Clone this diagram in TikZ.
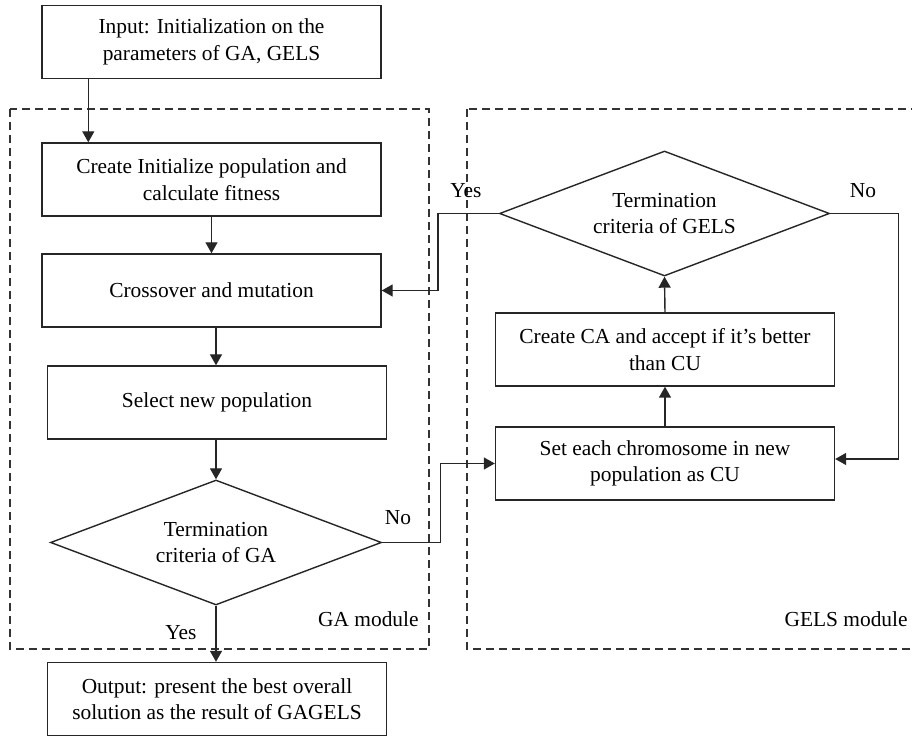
\documentclass[tikz,border=0pt]{standalone}
\usepackage{fontspec}
\setmainfont{Liberation Serif}
\usetikzlibrary{shapes.geometric, arrows.meta, positioning}
\tikzstyle{block} = [rectangle, text centered, align=center, draw=black!85, line width=0.7pt, minimum width=169.5pt, minimum height=36.5pt, inner sep=0pt]
\tikzstyle{decision} = [diamond, aspect=2.64, align=center, draw=black!85, line width=0.7pt, minimum width=165pt, minimum height=62.5pt, inner sep=0pt]
\tikzstyle{module} = [draw=black!80, line width=0.55pt, dash pattern=on 4pt off 2.5pt]
\tikzstyle{arrow} = [line width=0.7pt, draw=black!85, -{Triangle[length=5.5pt,width=6pt]}]
\tikzstyle{lbl} = [inner sep=0pt]

\begin{document}
\begin{tikzpicture}[x=0.5pt, y=-0.5pt, font=\fontsize{10.7}{13.3}\selectfont]
  \useasboundingbox (0,0) rectangle (912,737);

  % module frames
  \draw[module] (10,109) rectangle (429,649);
  \draw[module] (467,109) rectangle (920,649);

  % GA side
  \node[block] (input) at (211.5,42) {Input: Initialization on the\\parameters of GA, GELS};
  \node[block] (create) at (211.5,179.5) {Create Initialize population and\\calculate fitness};
  \node[block] (crossover) at (211.5,290.5) {Crossover and mutation};
  \node[block] (select) at (217,402.5) {Select new population};
  \node[decision, minimum width=165.5pt] (gacrit) at (216,542.5) {Termination\\criteria of GA};
  \node[block] (output) at (217,699) {Output: present the best overall\\solution as the result of GAGELS};

  % GELS side
  \node[decision] (gelscrit) at (664.5,213.5) {Termination\\criteria of GELS};
  \node[block] (createca) at (665,349.5) {Create CA and accept if it's better\\than CU};
  \node[block] (setpop) at (665,463.5) {Set each chromosome in new\\population as CU};

  % labels
  \node[lbl] (gano) at (398,518) {No};
  \node[lbl] (gayes) at (181,633) {Yes};
  \node[lbl] (gelsyes) at (466,191) {Yes};
  \node[lbl] (gelsno) at (863,191) {No};
  \node[lbl, anchor=east] (gamod) at (419,619) {GA module};
  \node[lbl, anchor=east] (gelsmod) at (908,619) {GELS module};

  \draw[arrow] ([xshift=23.5pt]input.south west) -- ([xshift=23.5pt]create.north west);
  \draw[arrow] (create.south) -- (crossover.north);
  \draw[arrow] (crossover.south -| gacrit.north) -- (select.north -| gacrit.north);
  \draw[arrow] (select.south -| gacrit.north) -- (gacrit.north);
  \draw[arrow] (gacrit.south) -- (gacrit.south |- output.north);
  \draw[arrow] (gacrit.east) -- ++(58,0) |- (setpop.west);
  \draw[arrow] (setpop.north) -- (createca.south);
  \draw[arrow] (createca.north) -- (gelscrit.south);
  \draw[arrow] (gelscrit.west) -- ++(-61,0) |- (crossover.east);
  \draw[arrow] (gelscrit.east) -- ++(68,0) |- ([yshift=2.25pt]setpop.east);

\end{tikzpicture}
\end{document}
